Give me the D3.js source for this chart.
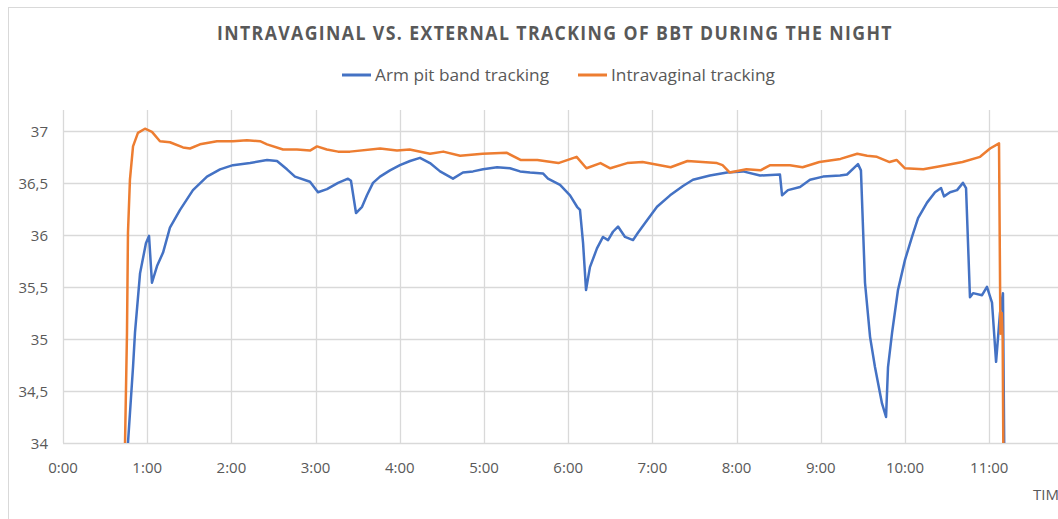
<!DOCTYPE html>
<meta charset="utf-8">
<script src="https://d3js.org/d3.v7.min.js"></script>
<style>
  body { margin: 0; background: #fff; }
  text { font-family: 'Open Sans', sans-serif; fill: #595959; }
</style>
<div id="my_dataviz"></div>
<script>
// minutes after 0:00 and temperature (°C)
var armMinutes = [45.5, 46.3, 49.9, 51.3, 54.9, 59.1, 61.3, 63.4, 67, 71.3, 76.2, 83.4, 92.6, 102.6, 111.9, 121.1,
  133.3, 145.4, 152.5, 159.6, 165.3, 176, 181.7, 188.1, 196, 203.1, 205.2, 208.8, 213.1, 216.6, 220.9, 225.9,
  233, 240.1, 247.3, 254.4, 261.5, 268.7, 277.9, 285, 292.2, 299.3, 309.3, 318.5, 325.7, 332.8, 342, 345.6,
  354.2, 361.3, 366.3, 368.4, 370.6, 372.7, 375.5, 380.5, 384.8, 388.4, 391.9, 395.5, 400.5, 406.2, 409.7,
  416.2, 423.3, 432.6, 441.8, 448.9, 461, 473.2, 484.6, 496.7, 510.9, 512.4, 516.6, 525.2, 532.3, 541.6,
  553.7, 558.7, 566.5, 568.6, 571.5, 575.1, 578.6, 583.6, 586.5, 587.9, 590.8, 595, 600, 605, 609.3, 615.7,
  621.4, 625.7, 627.8, 632.1, 637.1, 641.3, 643.5, 646.3, 648.5, 654.9, 658.4, 662, 664.9, 667.7, 669.8, 671.3];
var armTemps = [33, 34, 34.73, 35.06, 35.63, 35.92, 35.99, 35.54, 35.7, 35.83, 36.07, 36.24, 36.43, 36.56, 36.63, 36.67,
  36.69, 36.72, 36.71, 36.63, 36.56, 36.51, 36.41, 36.44, 36.5, 36.54, 36.52, 36.21, 36.27, 36.38, 36.5, 36.56,
  36.62, 36.67, 36.71, 36.74, 36.69, 36.61, 36.54, 36.6, 36.61, 36.63, 36.65, 36.64, 36.61, 36.6, 36.59, 36.54,
  36.48, 36.38, 36.27, 36.24, 35.92, 35.47, 35.69, 35.87, 35.98, 35.95, 36.03, 36.08, 35.98, 35.95, 36.02,
  36.14, 36.27, 36.38, 36.47, 36.53, 36.57, 36.6, 36.61, 36.57, 36.58, 36.38, 36.43, 36.46, 36.53, 36.56,
  36.57, 36.58, 36.68, 36.62, 35.54, 35.02, 34.73, 34.38, 34.25, 34.73, 35.06, 35.47, 35.76, 35.98, 36.16, 36.31,
  36.41, 36.45, 36.37, 36.41, 36.43, 36.5, 36.45, 35.4, 35.44, 35.42, 35.5, 35.35, 34.78, 35.25, 35.44, 33];

var vagMinutes = [43.5, 44.2, 45.6, 46.3, 47.7, 49.9, 53.4, 58.4, 63.4, 69.1, 76.2, 85.5, 90.5, 97.6, 109.7, 121.1,
  131.1, 140.4, 145.4, 156.8, 166.7, 176, 181, 188, 196, 204.5, 226, 238, 247, 261.5, 271, 283, 299, 316, 326,
  338, 353, 366, 373, 383, 390, 402, 413, 433, 445, 466, 470, 475, 487, 497, 504, 518, 527, 539, 554, 566, 573,
  580, 589, 594, 600, 613, 625, 641, 653.5, 660.6, 667, 668, 669, 669.6, 670.5];
var vagTemps = [33, 34, 35.06, 36.02, 36.53, 36.85, 36.98, 37.02, 36.99, 36.9, 36.89, 36.84, 36.83, 36.87, 36.9, 36.9,
  36.91, 36.9, 36.87, 36.82, 36.82, 36.81, 36.85, 36.82, 36.8, 36.8, 36.83, 36.81, 36.82, 36.78, 36.8, 36.76, 36.78, 36.79, 36.72,
  36.72, 36.69, 36.75, 36.64, 36.69, 36.64, 36.69, 36.7, 36.65, 36.71, 36.69, 36.67, 36.6, 36.63, 36.62, 36.67, 36.67, 36.65, 36.7, 36.73, 36.78, 36.76,
  36.75, 36.7, 36.72, 36.64, 36.63, 36.66, 36.7, 36.75, 36.83, 36.88, 35.05, 35.25, 35.0, 33];

var yTicks = [34, 34.5, 35, 35.5, 36, 36.5, 37];
var xTicks = [0, 60, 120, 180, 240, 300, 360, 420, 480, 540, 600, 660];
var seriesNames = ["Arm pit band tracking", "Intravaginal tracking"];
var seriesColors = ["#4472C4", "#ED7D31"];

var W = 1058, H = 519;
var margin = {top: 110, left: 63, bottom: 76};
var plotRight = 63 + 12 * 84.2;

var svg = d3.select("#my_dataviz").append("svg")
  .attr("width", W).attr("height", H);

svg.append("rect").attr("width", W).attr("height", H).attr("fill", "#fff");
// chart frame (runs off the right and bottom edge)
svg.append("rect")
  .attr("x", 8.5).attr("y", 7.5).attr("width", 1200).attr("height", 700)
  .attr("fill", "none").attr("stroke", "#D9D9D9");

var x = d3.scaleLinear().domain([0, 720]).range([margin.left, plotRight]);
var y = d3.scaleLinear().domain([34, 37.2]).range([H - margin.bottom, margin.top]);

// gridlines
svg.append("g").selectAll("line.h").data(yTicks).enter().append("line")
  .attr("x1", margin.left).attr("x2", plotRight)
  .attr("y1", function(d) { return Math.round(y(d)) + 0.5; })
  .attr("y2", function(d) { return Math.round(y(d)) + 0.5; })
  .attr("stroke", "#D9D9D9").attr("stroke-width", 1.3);
svg.append("g").selectAll("line.v").data(xTicks).enter().append("line")
  .attr("x1", function(d) { return Math.round(x(d)) + 0.5; })
  .attr("x2", function(d) { return Math.round(x(d)) + 0.5; })
  .attr("y1", y(37.2)).attr("y2", y(34))
  .attr("stroke", "#D9D9D9").attr("stroke-width", 1.3);

// axis labels
svg.append("g").selectAll("text").data(yTicks).enter().append("text")
  .attr("x", 48).attr("y", function(d) { return y(d) + 6; })
  .attr("text-anchor", "end").style("font-size", "15px")
  .text(function(d) { return String(d).replace(".", ","); });
svg.append("g").selectAll("text").data(xTicks).enter().append("text")
  .attr("x", function(d) { return x(d); }).attr("y", 473)
  .attr("text-anchor", "middle").style("font-size", "15px")
  .text(function(d) { return (d / 60) + ":00"; });
svg.append("text").attr("x", 1033).attr("y", 500)
  .style("font-size", "15px").text("TIME");

// lines
svg.append("clipPath").attr("id", "plotclip").append("rect")
  .attr("x", margin.left).attr("y", margin.top - 5)
  .attr("width", plotRight - margin.left).attr("height", y(34) - margin.top + 5);

var line = d3.line()
  .x(function(d) { return x(d[0]); })
  .y(function(d) { return y(d[1]); });

var series = [d3.zip(armMinutes, armTemps), d3.zip(vagMinutes, vagTemps)];
svg.append("g").attr("clip-path", "url(#plotclip)")
  .selectAll("path").data(series).enter().append("path")
  .attr("d", line)
  .attr("fill", "none")
  .attr("stroke", function(d, i) { return seriesColors[i]; })
  .attr("stroke-width", 2.5)
  .attr("stroke-linejoin", "round");

// title
svg.append("text")
  .attr("x", 217).attr("y", 40)
  .attr("textLength", 676).attr("lengthAdjust", "spacingAndGlyphs")
  .style("font-size", "19px").style("font-weight", "bold").style("letter-spacing", "1.5px")
  .text("INTRAVAGINAL VS. EXTERNAL TRACKING OF BBT DURING THE NIGHT");

// legend
var legendX = [342, 578], legendW = [174, 164];
seriesNames.forEach(function(name, i) {
  svg.append("line")
    .attr("x1", legendX[i]).attr("x2", legendX[i] + 29)
    .attr("y1", 75).attr("y2", 75)
    .attr("stroke", seriesColors[i]).attr("stroke-width", 3);
  svg.append("text")
    .attr("x", legendX[i] + 33).attr("y", 81)
    .attr("textLength", legendW[i]).attr("lengthAdjust", "spacingAndGlyphs")
    .style("font-size", "17px")
    .text(name);
});
</script>
